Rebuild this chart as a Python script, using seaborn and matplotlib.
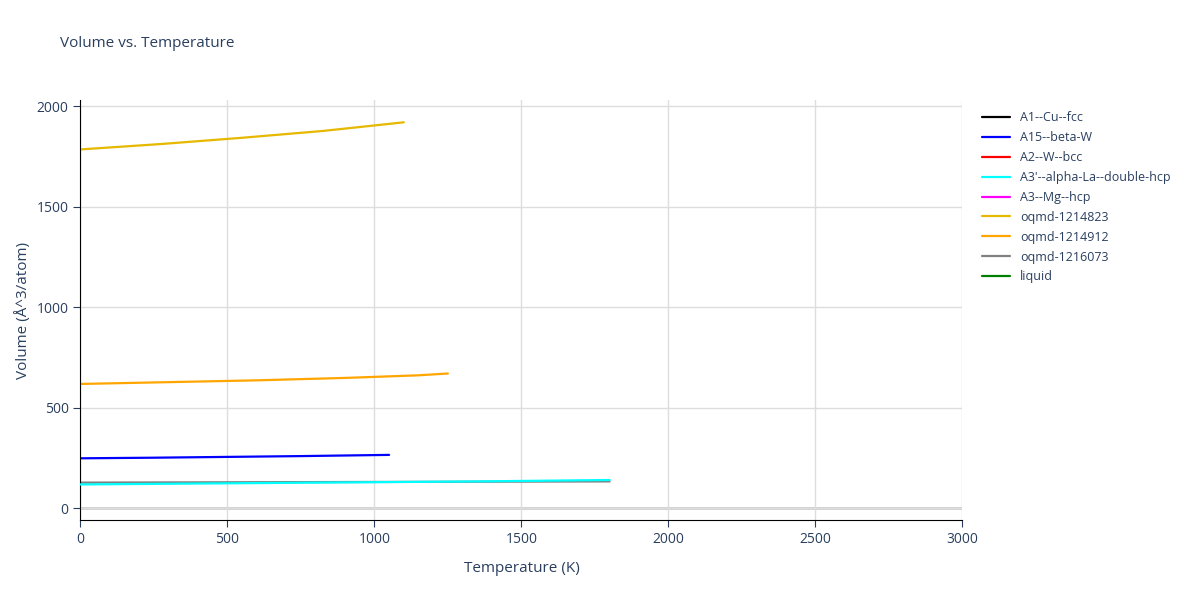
import matplotlib
matplotlib.use('Agg')
import matplotlib.pyplot as plt
import seaborn as sns
import pandas as pd

# (temperature K, volume A^3/atom)
t_beta_w = [0, 250, 500, 750, 1050]
v_beta_w = [248, 251, 255, 259, 265]
t_dhcp = [0, 450, 900, 1350, 1800]
v_dhcp = [118, 123, 128, 133, 140]
t_1214823 = [0, 275, 550, 825, 1100]
v_1214823 = [1785, 1812, 1843, 1877, 1920]
t_1214912 = [0, 300, 600, 900, 1150, 1250]
v_1214912 = [618, 627, 636, 648, 661, 670]
t_1216073 = [0, 450, 900, 1350, 1800]
v_1216073 = [127, 128.5, 130, 131.5, 133]

series = [
    ("A1--Cu--fcc", "black", [], []),
    ("A15--beta-W", "blue", t_beta_w, v_beta_w),
    ("A2--W--bcc", "red", [], []),
    ("A3'--alpha-La--double-hcp", "cyan", t_dhcp, v_dhcp),
    ("A3--Mg--hcp", "magenta", [], []),
    ("oqmd-1214823", "#e6b800", t_1214823, v_1214823),
    ("oqmd-1214912", "orange", t_1214912, v_1214912),
    ("oqmd-1216073", "gray", t_1216073, v_1216073),
    ("liquid", "green", [], []),
]

sns.set_style("whitegrid")
plt.rcParams['font.family'] = ['Open Sans', 'DejaVu Sans']

fig, ax = plt.subplots(figsize=(12, 6), dpi=100)
fig.subplots_adjust(left=0.067, right=0.802, top=0.833, bottom=0.133)

for name, color, t, v in series:
    df = pd.DataFrame({"T": t, "V": v}, dtype=float)
    if len(df):
        z = 3 if color == "cyan" else 2
        sns.lineplot(data=df, x="T", y="V", ax=ax, color=color, linewidth=1.6,
                     label=name, zorder=z)
    else:
        ax.plot([], [], color=color, linewidth=1.6, label=name)

ax.set_xlim(0, 3000)
ax.set_ylim(-60, 2030)
ax.set_xticks(range(0, 3001, 500))
ax.set_yticks([0, 500, 1000, 1500, 2000])
ax.grid(color="#dddddd", linewidth=1)
for s in ax.spines.values():
    s.set_visible(False)
ax.axhline(0, color="#cccccc", linewidth=2, zorder=0)
ax.spines['left'].set_visible(True)
ax.spines['left'].set_color('black')
ax.spines['bottom'].set_visible(True)
ax.spines['bottom'].set_color('black')
ax.tick_params(colors="#2a3f5f", labelsize=10, length=5, direction='out', left=True, bottom=True)
ax.set_xlabel("Temperature (K)", color="#2a3f5f", fontsize=11, labelpad=10)
ax.set_ylabel("Volume (Å^3/atom)", color="#2a3f5f", fontsize=11)
fig.text(0.05, 0.922, "Volume vs. Temperature", color="#2a3f5f", fontsize=11)

leg = ax.legend(loc="upper left", bbox_to_anchor=(1.01, 1.0), frameon=False,
                fontsize=9, handlelength=2.2, labelspacing=0.55)
for txt in leg.get_texts():
    txt.set_color("#2a3f5f")

fig.savefig("out.png", dpi=100)
